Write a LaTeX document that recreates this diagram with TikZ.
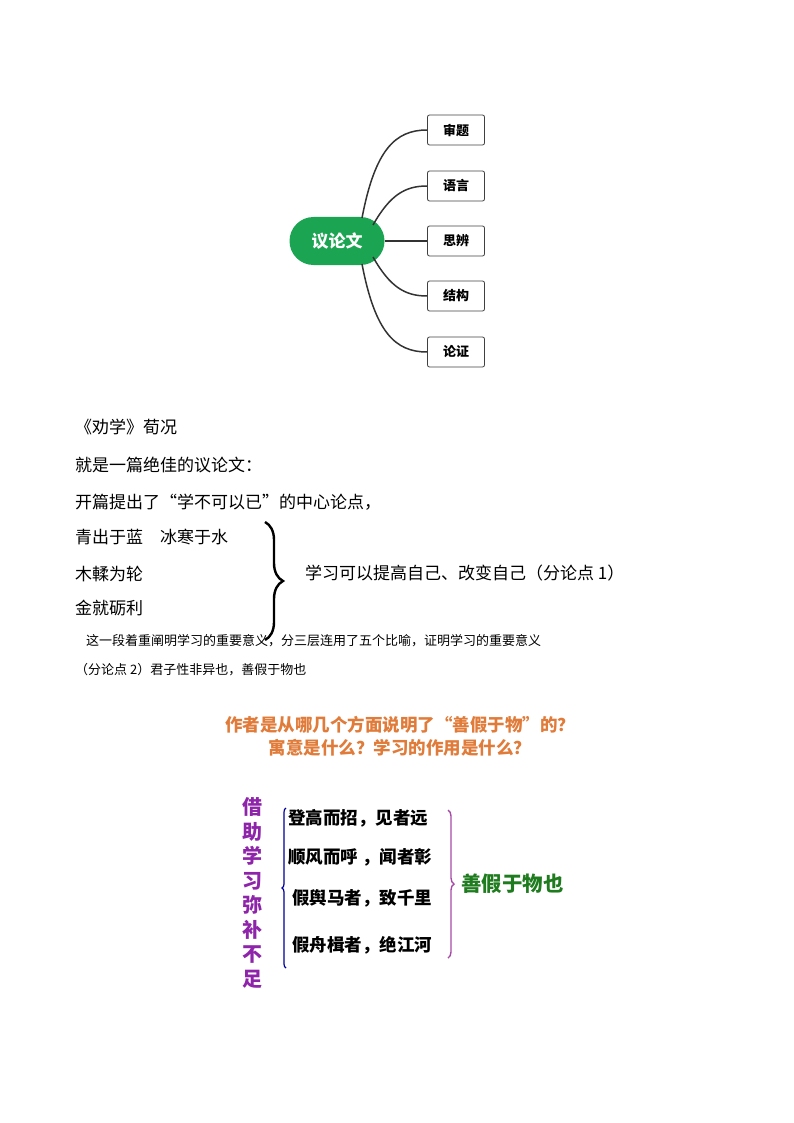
\documentclass[tikz,border=0pt]{standalone}
\usepackage{fontspec}
\newfontfamily\cjk{Noto Sans CJK SC}
\usetikzlibrary{decorations.pathreplacing}
\definecolor{mmgreen}{HTML}{1BA552}
\definecolor{qorange}{HTML}{E07B39}
\definecolor{vpurple}{HTML}{8E24AA}
\definecolor{sgreen}{HTML}{1E7B1E}
\tikzset{
 leaf/.style={draw=black!75,line width=0.8pt,rounded corners=2pt,minimum width=57pt,minimum height=30pt,font=\cjk\bfseries\fontsize{13}{13}\selectfont},
 conn/.style={draw=black!80,line width=1.5pt},
 body/.style={anchor=west,inner sep=0,font=\cjk\fontsize{17}{17}\selectfont},
 small/.style={anchor=west,inner sep=0,font=\cjk\fontsize{13}{13}\selectfont},
 big/.style={anchor=west,inner sep=0,font=\cjk\bfseries\fontsize{17.5}{17.5}\selectfont},
}
\begin{document}
\begin{tikzpicture}[x=1pt,y=-1pt]
\useasboundingbox (0,0) rectangle (794,1123);
\node[fill=mmgreen,rounded corners=24pt,minimum width=95pt,minimum height=48pt,text=white,font=\cjk\bfseries\fontsize{17}{17}\selectfont] (c) at (337,241) {议论文};
\node[leaf] (a1) at (456,130) {审题};
\node[leaf] (a2) at (456,186) {语言};
\node[leaf] (a3) at (456,241) {思辨};
\node[leaf] (a4) at (456,296) {结构};
\node[leaf] (a5) at (456,352) {论证};
\draw[conn] (362,218) .. controls (375,150) and (395,130) .. (a1.west);
\draw[conn] (373,225) .. controls (390,195) and (405,186) .. (a2.west);
\draw[conn] (c.east) -- (a3.west);
\draw[conn] (373,257) .. controls (390,287) and (405,296) .. (a4.west);
\draw[conn] (362,264) .. controls (375,332) and (395,352) .. (a5.west);

\node[body] (t1) at (75,427) {《劝学》荀况};
\node[body] (t2) at (75,465) {就是一篇绝佳的议论文：};
\node[body] (t3) at (75,502) {开篇提出了“学不可以已”的中心论点，};
\node[body] (t4) at (75,537) {青出于蓝\quad 冰寒于水};
\node[body] (t5) at (75,574) {木輮为轮};
\node[body] (t6) at (75,608) {金就砺利};
\coordinate (bt) at (265,522);
\coordinate (bb) at (265,640);
\draw[line width=2.4pt,decorate,decoration={brace,amplitude=18pt}] (bt) -- (bb);
\node[body] (t7) at (305,573) {学习可以提高自己、改变自己（分论点 1）};
\node[small] (t8) at (86,641) {这一段着重阐明学习的重要意义，分三层连用了五个比喻，证明学习的重要意义};
\node[small] (t9) at (75,670) {（分论点 2）君子性非异也，善假于物也};

\node[font=\cjk\bfseries\fontsize{17.5}{17.5}\selectfont,text=qorange,align=center,inner sep=0] (q) at (400,736) {作者是从哪几个方面说明了“善假于物”的？\\[5pt]寓意是什么？学习的作用是什么？};

\node[font=\cjk\bfseries\fontsize{20}{24.5}\selectfont,text=vpurple,align=center,inner sep=0] (v) at (252,893) {借\\助\\学\\习\\弥\\补\\不\\足};
\coordinate (lt) at (286,808);
\coordinate (lb) at (286,968);
\draw[line width=1.2pt,draw=blue!60!black,decorate,decoration={brace,amplitude=4pt}] (lb) -- (lt);
\node[big] (b1) at (288,818) {登高而招，见者远};
\node[big] (b2) at (288,857) {顺风而呼 ，闻者彰};
\node[big] (b3) at (292,898) {假舆马者，致千里};
\node[big] (b4) at (292,945) {假舟楫者，绝江河};
\coordinate (rt) at (448,810);
\coordinate (rb) at (448,958);
\draw[line width=1.4pt,draw=violet!70,decorate,decoration={brace,amplitude=6pt}] (rt) -- (rb);
\node[font=\cjk\bfseries\fontsize{20.5}{20.5}\selectfont,text=sgreen,anchor=west,inner sep=0] (s) at (461,884) {善假于物也};
\end{tikzpicture}
\end{document}
